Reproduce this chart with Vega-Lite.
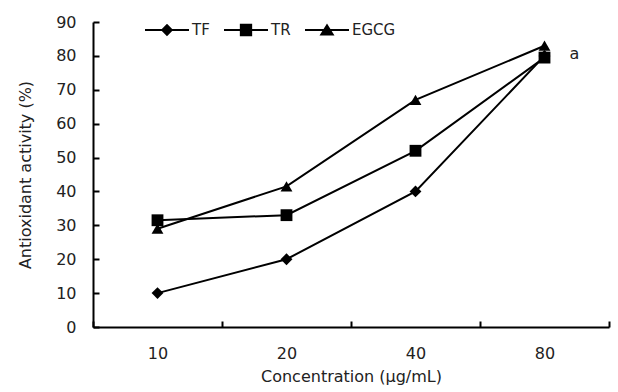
{
  "$schema": "https://vega.github.io/schema/vega-lite/v6.json",
  "autosize": "none",
  "width": 516,
  "height": 305,
  "padding": {"left": 93, "top": 22, "right": 9, "bottom": 65},
  "background": "white",
  "config": {
    "view": {"stroke": null},
    "font": "DejaVu Sans",
    "axis": {"grid": false, "domainColor": "black", "domainWidth": 2, "tickColor": "black", "tickWidth": 2, "labelColor": "#222", "titleColor": "#222", "labelFont": "DejaVu Sans", "titleFont": "DejaVu Sans", "labelFontSize": 16, "titleFontSize": 16, "titleFontWeight": "normal"}
  },
  "datasets": {
    "series": [
      {"conc": "10", "series": "TF", "activity": 10},
      {"conc": "20", "series": "TF", "activity": 20},
      {"conc": "40", "series": "TF", "activity": 40},
      {"conc": "80", "series": "TF", "activity": 80},
      {"conc": "10", "series": "TR", "activity": 31.5},
      {"conc": "20", "series": "TR", "activity": 33},
      {"conc": "40", "series": "TR", "activity": 52},
      {"conc": "80", "series": "TR", "activity": 79.5},
      {"conc": "10", "series": "EGCG", "activity": 29},
      {"conc": "20", "series": "EGCG", "activity": 41.5},
      {"conc": "40", "series": "EGCG", "activity": 67},
      {"conc": "80", "series": "EGCG", "activity": 83}
    ],
    "notes": [
      {"conc": "80", "activity": 80.5, "label": "a"}
    ]
  },
  "encoding": {
    "x": {"field": "conc", "type": "ordinal", "sort": ["10", "20", "40", "80"],
      "scale": {"type": "band", "paddingInner": 0, "paddingOuter": 0},
      "axis": {"title": "Concentration (μg/mL)", "labelAngle": 0, "tickBand": "extent", "tickSize": -6, "labelPadding": 24, "titlePadding": 7}},
    "y": {"field": "activity", "type": "quantitative",
      "scale": {"domain": [0, 90], "nice": false},
      "axis": {"title": "Antioxidant activity (%)", "values": [0, 10, 20, 30, 40, 50, 60, 70, 80, 90], "tickSize": -6, "labelPadding": 23, "titlePadding": 22}}
  },
  "layer": [
    {
      "data": {"name": "series"},
      "mark": {"type": "line", "color": "black", "strokeWidth": 2},
      "encoding": {"detail": {"field": "series"}}
    },
    {
      "data": {"name": "series"},
      "mark": {"type": "point", "filled": true, "color": "black", "opacity": 1, "size": 140},
      "encoding": {
        "shape": {"field": "series", "type": "nominal",
          "scale": {"domain": ["TF", "TR", "EGCG"], "range": ["diamond", "square", "triangle-up"]},
          "legend": null}
      }
    },
    {
      "data": {"name": "series"},
      "mark": {"type": "point", "filled": true, "color": "black", "opacity": 1, "size": 0.0001},
      "encoding": {
        "shape": {"field": "series", "type": "nominal",
          "scale": {"domain": ["TF", "TR", "EGCG"], "range": [
            "M-1,-0.045H1V0.045H-1Z M0,-0.28L0.28,0L0,0.28L-0.28,0Z",
            "M-1,-0.045H1V0.045H-1Z M-0.28,-0.28H0.28V0.28H-0.28Z",
            "M-1,-0.045H1V0.045H-1Z M0,-0.3L0.34,0.25H-0.34Z"]},
          "legend": {"title": null, "orient": "none", "legendX": 52, "legendY": -14, "direction": "horizontal",
            "symbolSize": 1936, "labelOffset": 3, "columnPadding": 14, "labelFontSize": 15, "labelColor": "#222", "labelFont": "DejaVu Sans",
            "symbolFillColor": "black", "symbolStrokeWidth": 0}
        }
      }
    },
    {
      "data": {"name": "notes"},
      "mark": {"type": "text", "align": "left", "dx": 25, "fontSize": 16, "color": "#222", "font": "DejaVu Sans"},
      "encoding": {"text": {"field": "label"}}
    }
  ],
  "resolve": {"scale": {"shape": "independent"}, "legend": {"shape": "independent"}}
}
